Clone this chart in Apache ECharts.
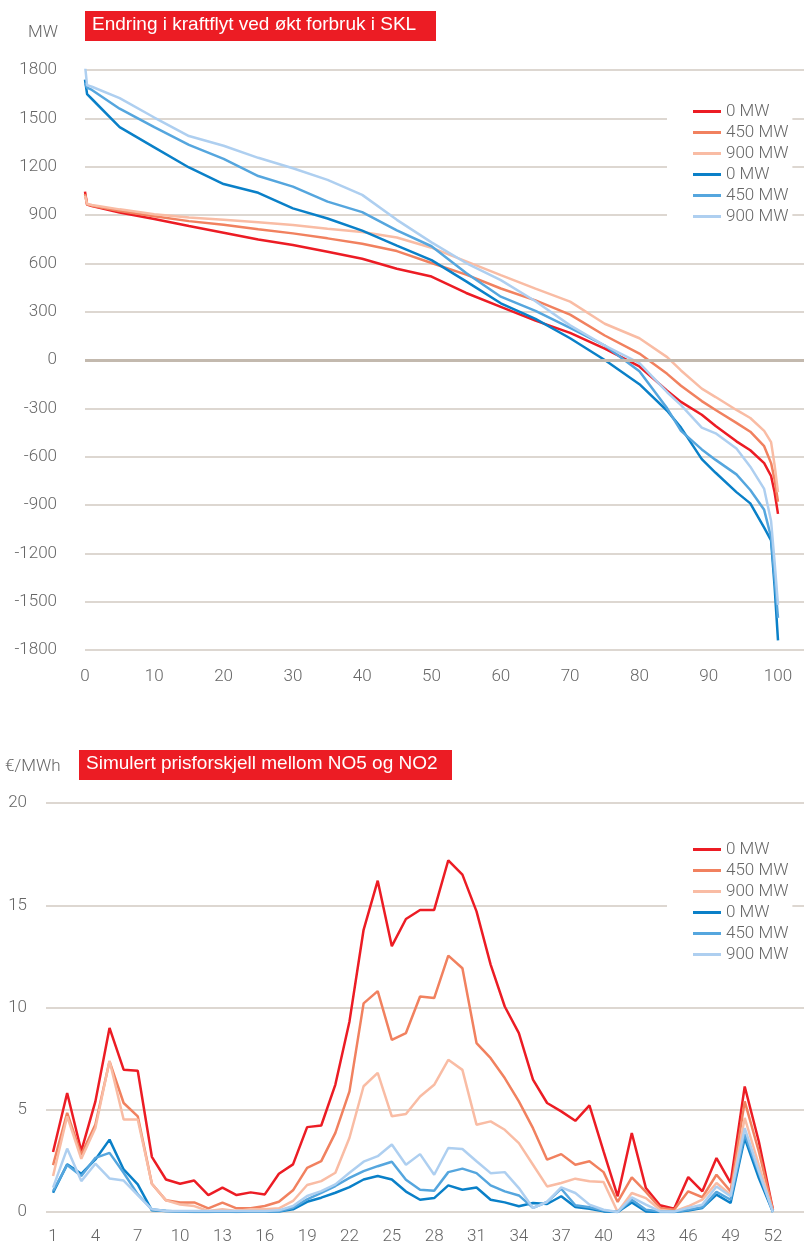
<!DOCTYPE html>
<html>
<head>
<meta charset="utf-8">
<script src="https://cdn.jsdelivr.net/npm/echarts@6/dist/echarts.min.js"></script>
<style>
  html, body { margin: 0; padding: 0; background: #fff; }
  #chart { width: 804px; height: 1249px; }
</style>
</head>
<body>
<div id="chart"></div>
<script>
// varighetskurve, andel av tiden (%)
const pct = [0, 0.3, 1, 5, 10, 15, 20, 25, 30, 35, 40, 45, 50, 55, 60, 65, 70, 75, 80, 84, 86, 89, 91, 94, 96, 98, 99, 99.5, 100];
const flowRed0 = [1045, 965, 955, 915, 875, 832, 790, 748, 714, 672, 628, 566, 518, 416, 330, 244, 168, 70, -40, -190, -260, -340, -410, -505, -560, -640, -720, -820, -955];
const flowRed450 = [1030, 965, 958, 925, 892, 862, 840, 812, 786, 755, 722, 676, 602, 530, 444, 370, 282, 152, 40, -86, -160, -255, -310, -390, -445, -535, -640, -740, -880];
const flowRed900 = [1020, 970, 962, 935, 905, 885, 870, 855, 838, 815, 795, 760, 697, 612, 527, 443, 362, 225, 135, 18, -65, -178, -230, -310, -360, -440, -510, -650, -820];
const flowBlue0 = [1740, 1650, 1620, 1445, 1320, 1195, 1092, 1038, 941, 878, 803, 710, 620, 488, 352, 255, 135, 0, -150, -315, -420, -615, -700, -820, -890, -1040, -1120, -1400, -1740];
const flowBlue450 = [1720, 1690, 1676, 1560, 1445, 1335, 1248, 1142, 1076, 983, 918, 805, 706, 540, 393, 305, 200, 90, -70, -300, -440, -555, -620, -710, -807, -930, -1100, -1350, -1600];
const flowBlue900 = [1831, 1705, 1696, 1625, 1505, 1390, 1330, 1255, 1190, 1118, 1025, 870, 730, 602, 496, 365, 215, 90, -20, -200, -280, -420, -455, -550, -662, -800, -1000, -1250, -1520];
const pctTicks = [0, 10, 20, 30, 40, 50, 60, 70, 80, 90, 100];

// uker
const weeks = Array.from({length: 52}, (_, i) => i + 1);
const weekTicks = [1, 4, 7, 10, 13, 16, 19, 22, 25, 28, 31, 34, 37, 40, 43, 46, 49, 52];
const priceRed0 = [2.93, 5.82, 2.98, 5.41, 9.0, 6.96, 6.91, 2.70, 1.59, 1.38, 1.54, 0.83, 1.19, 0.83, 0.96, 0.86, 1.87, 2.33, 4.15, 4.23, 6.23, 9.32, 13.8, 16.2, 13.0, 14.33, 14.77, 14.77, 17.2, 16.5, 14.7, 12.1, 10.05, 8.75, 6.47, 5.33, 4.92, 4.46, 5.21, 2.96, 0.77, 3.86, 1.17, 0.33, 0.16, 1.71, 1.01, 2.64, 1.42, 6.14, 3.45, 0.11];
const priceRed450 = [2.29, 4.85, 2.81, 4.28, 7.37, 5.33, 4.68, 1.38, 0.57, 0.46, 0.47, 0.18, 0.46, 0.18, 0.18, 0.29, 0.5, 1.06, 2.16, 2.49, 3.87, 5.9, 10.2, 10.8, 8.42, 8.75, 10.54, 10.46, 12.54, 11.92, 8.26, 7.52, 6.55, 5.41, 4.1, 2.56, 2.83, 2.31, 2.48, 1.95, 0.49, 1.69, 0.98, 0.2, 0.11, 1.01, 0.72, 1.82, 1.01, 5.41, 2.96, 0.11];
const priceRed900 = [1.76, 4.68, 2.6, 4.11, 7.4, 4.52, 4.52, 1.38, 0.57, 0.37, 0.29, 0.05, 0.13, 0.05, 0.13, 0.13, 0.18, 0.54, 1.32, 1.51, 1.92, 3.63, 6.15, 6.8, 4.68, 4.79, 5.65, 6.22, 7.44, 6.95, 4.27, 4.43, 4.02, 3.37, 2.31, 1.25, 1.42, 1.63, 1.5, 1.47, 0, 0.93, 0.68, 0.11, 0.03, 0.28, 0.6, 1.42, 0.85, 4.6, 2.31, 0.03];
const priceBlue0 = [0.94, 2.33, 1.87, 2.57, 3.54, 2.08, 1.35, 0.08, 0.05, 0.02, 0, 0, 0.02, 0, 0.02, 0.02, 0.02, 0.13, 0.5, 0.7, 0.94, 1.22, 1.59, 1.76, 1.59, 1.0, 0.6, 0.68, 1.3, 1.09, 1.2, 0.6, 0.47, 0.28, 0.44, 0.39, 0.77, 0.24, 0.16, 0.03, 0, 0.47, 0.03, 0, 0, 0.07, 0.2, 0.85, 0.44, 3.62, 1.66, 0];
const priceBlue450 = [1.02, 2.3, 1.76, 2.65, 2.89, 1.92, 0.86, 0.13, 0.05, 0.03, 0.02, 0.02, 0.02, 0.02, 0.02, 0.02, 0.03, 0.21, 0.62, 0.94, 1.27, 1.67, 2.0, 2.24, 2.46, 1.58, 1.09, 1.04, 1.95, 2.12, 1.9, 1.3, 1.01, 0.81, 0.2, 0.49, 1.14, 0.33, 0.23, 0.07, 0, 0.6, 0.11, 0.02, 0, 0.11, 0.23, 0.98, 0.6, 3.8, 1.9, 0];
const priceBlue900 = [1.19, 3.1, 1.51, 2.36, 1.64, 1.54, 0.83, 0.13, 0.05, 0.05, 0.05, 0.05, 0.05, 0.05, 0.05, 0.05, 0.08, 0.29, 0.78, 1.02, 1.35, 1.92, 2.46, 2.73, 3.3, 2.31, 2.83, 1.82, 3.13, 3.08, 2.48, 1.9, 1.95, 1.17, 0.2, 0.49, 1.2, 0.93, 0.36, 0.11, 0, 0.72, 0.36, 0.03, 0.02, 0.2, 0.36, 1.25, 0.77, 4.1, 2.0, 0];

const labels = ['0 MW', '450 MW', '900 MW', '0 MW', '450 MW', '900 MW'];
const colors = ['#ec1c24', '#f1815f', '#f9bca4', '#0a80c8', '#55a6de', '#aecff0'];
const font = 'Roboto, "Liberation Sans", sans-serif';
const titleFont = '"Liberation Sans", Arial, sans-serif';
const textColor = '#666';
const gridColor = '#d2cac2';

function pairs(xs, ys) {
  return xs.map((x, i) => [x, ys[i]]);
}

const flowSets = [flowRed0, flowRed450, flowRed900, flowBlue0, flowBlue450, flowBlue900];
const priceSets = [priceRed0, priceRed450, priceRed900, priceBlue0, priceBlue450, priceBlue900];
const topNames = labels.map((l, i) => 'top' + i);
const botNames = labels.map((l, i) => 'bot' + i);

const series = [];
flowSets.forEach((ys, i) => {
  const s = {
    name: topNames[i],
    type: 'line',
    xAxisIndex: 0,
    yAxisIndex: 0,
    symbol: 'none',
    color: colors[i],
    lineStyle: {width: 2.5},
    data: pairs(pct, ys)
  };
  if (i === 0) {
    // tykkere nullinje
    s.markLine = {
      silent: true,
      symbol: ['none', 'none'],
      label: {show: false},
      lineStyle: {color: '#c3b9ae', width: 3, type: 'solid'},
      data: [{yAxis: 0}]
    };
  }
  series.push(s);
});
priceSets.forEach((ys, i) => {
  series.push({
    name: botNames[i],
    type: 'line',
    xAxisIndex: 1,
    yAxisIndex: 1,
    symbol: 'none',
    color: colors[i],
    lineStyle: {width: 2.5},
    data: pairs(weeks, ys)
  });
});

function legendFor(names, top) {
  return {
    orient: 'vertical',
    left: 667,
    top: top,
    padding: [5, 4, 5, 26],
    backgroundColor: '#fff',
    icon: 'rect',
    itemWidth: 28,
    itemHeight: 3,
    itemGap: 4,
    data: names,
    formatter: name => labels[names.indexOf(name)],
    textStyle: {fontFamily: font, fontWeight: 300, fontSize: 17, color: textColor}
  };
}

const plain = v => String(v);

const chart = echarts.init(document.getElementById('chart'));
chart.setOption({
  animation: false,
  backgroundColor: '#fff',
  grid: [
    {left: 85, right: 0, top: 70, height: 580},
    {left: 46, right: 0, top: 803, bottom: 37}
  ],
  legend: [legendFor(topNames, 98), legendFor(botNames, 836)],
  xAxis: [
    {
      type: 'value', gridIndex: 0, min: 0, max: 103.75,
      axisLine: {show: false}, axisTick: {show: false}, splitLine: {show: false},
      axisLabel: {customValues: pctTicks, formatter: plain, margin: 18, fontFamily: font, fontWeight: 300, fontSize: 17, color: textColor}
    },
    {
      type: 'value', gridIndex: 1, min: 0.5, max: 54.2,
      axisLine: {show: false}, axisTick: {show: false}, splitLine: {show: false},
      axisLabel: {customValues: weekTicks, formatter: plain, margin: 16, fontFamily: font, fontWeight: 300, fontSize: 17, color: textColor}
    }
  ],
  yAxis: [
    {
      type: 'value', gridIndex: 0, min: -1800, max: 1800, interval: 300,
      axisLine: {show: false}, axisTick: {show: false},
      splitLine: {lineStyle: {color: gridColor, width: 1.5}},
      axisLabel: {formatter: plain, margin: 28, fontFamily: font, fontWeight: 300, fontSize: 17, color: textColor}
    },
    {
      type: 'value', gridIndex: 1, min: 0, max: 20, interval: 5,
      axisLine: {show: false}, axisTick: {show: false},
      splitLine: {lineStyle: {color: gridColor, width: 1.5}},
      axisLabel: {formatter: plain, margin: 19, fontFamily: font, fontWeight: 300, fontSize: 17, color: textColor}
    }
  ],
  graphic: [
    {type: 'rect', left: 85, top: 11, shape: {width: 351, height: 30}, style: {fill: '#ec1c24'}},
    {type: 'text', left: 92, top: 15, style: {text: 'Endring i kraftflyt ved økt forbruk i SKL', fill: '#fff', font: '19px ' + titleFont}},
    {type: 'text', left: 28, top: 24, style: {text: 'MW', fill: textColor, font: '300 17px ' + font}},
    {type: 'rect', left: 79, top: 750, shape: {width: 373, height: 30}, style: {fill: '#ec1c24'}},
    {type: 'text', left: 86, top: 754, style: {text: 'Simulert prisforskjell mellom NO5 og NO2', fill: '#fff', font: '19px ' + titleFont}},
    {type: 'text', left: 5, top: 758, style: {text: '€/MWh', fill: textColor, font: '300 17px ' + font}}
  ],
  series: series
});
</script>
</body>
</html>
